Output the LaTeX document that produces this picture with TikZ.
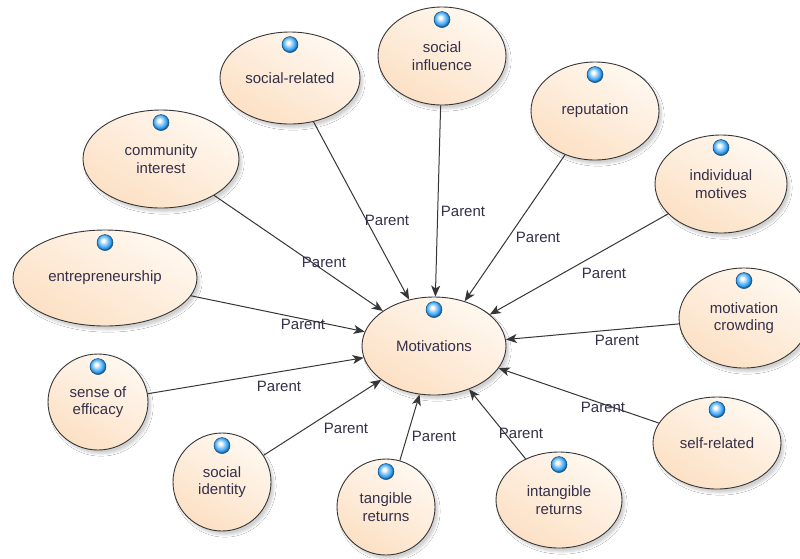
\documentclass[tikz,border=0pt]{standalone}
\usepackage{fontspec}
\setmainfont{Liberation Sans}
\usepackage{xcolor}
\usetikzlibrary{positioning,arrows.meta,shapes.geometric,shadows.blur}
\definecolor{motlight}{HTML}{FFF8F0}
\definecolor{motdark}{HTML}{FCE0C4}
\definecolor{motline}{HTML}{363636}
\definecolor{motdot}{HTML}{2C9CF2}
\definecolor{mottext}{HTML}{35304A}
\pgfdeclareradialshading{motball}{\pgfpoint{-6bp}{7bp}}{color(0bp)=(white); color(4bp)=(white); color(13bp)=(motdot!55!white); color(21bp)=(motdot); color(25bp)=(motdot!60!black); color(50bp)=(motdot!60!black)}

\begin{document}
\begin{tikzpicture}[x=1pt,y=-1pt,
  concept/.style={ellipse, draw=motline, line width=0.9pt, inner sep=0pt, align=center,
    left color=motlight, right color=motdark, shading angle=-30,
    font=\fontsize{15}{17.5}\selectfont, text=mottext,
    blur shadow={shadow xshift=3pt, shadow yshift=-4pt, shadow opacity=18, shadow blur steps=6}},
  parent/.style={-{Stealth[length=11pt,width=9pt,inset=3pt]}, motline, line width=1pt},
  lbl/.style={font=\fontsize{15}{17.5}\selectfont, text=mottext, inner sep=1pt}]
\useasboundingbox (0,0) rectangle (800,558);
\fill[white] (0,0) rectangle (800,558);
% centre concept
\node[concept, minimum width=144pt, minimum height=98pt] (mot) at (434,346) {Motivations};
% surrounding concepts
\foreach \nm/\px/\py/\w/\h/\txt in {
  sr/290/78/140/92/social-related,
  si/442/56/128/98/{social\\influence},
  rep/595/111/128/98/reputation,
  ci/161/159/156/98/{community\\interest},
  im/721/184/132/98/{individual\\motives},
  ent/105/278/184/96/entrepreneurship,
  mc/744/318/130/100/{motivation\\crowding},
  soe/98/402/100/96/{sense of\\efficacy},
  sre/717/443/128/92/self-related,
  sid/222/482/98/98/{social\\identity},
  tr/386/507/98/96/{tangible\\returns},
  ir/559/500/126/96/{intangible\\returns}}
  \node[concept, minimum width=\w pt, minimum height=\h pt] (\nm) at (\px,\py) {\txt};
% blue dots
\foreach \nm in {mot,sr,si,rep,ci,im,ent,mc,soe,sre,sid,tr,ir}
  \shade[shading=motball, draw=motdot!50!black, line width=0.5pt] ([yshift=-13pt]\nm.north) circle (8);
% connectors
\foreach \nm in {sr,si,rep,ci,im,ent,mc,soe,sre,sid,tr,ir}
  \draw[parent] (\nm) -- (mot);
% labels
\node[lbl] (p-ci) at (324,262) {Parent};
\node[lbl] (p-sr) at (387,220) {Parent};
\node[lbl] (p-si) at (463,211) {Parent};
\node[lbl] (p-rep) at (538,237) {Parent};
\node[lbl] (p-im) at (604,273) {Parent};
\node[lbl] (p-ent) at (303,324) {Parent};
\node[lbl] (p-mc) at (617,340) {Parent};
\node[lbl] (p-soe) at (279,386) {Parent};
\node[lbl] (p-sre) at (603,407) {Parent};
\node[lbl] (p-sid) at (346,428) {Parent};
\node[lbl] (p-tr) at (434,436) {Parent};
\node[lbl] (p-ir) at (521,433) {Parent};
\end{tikzpicture}
\end{document}
